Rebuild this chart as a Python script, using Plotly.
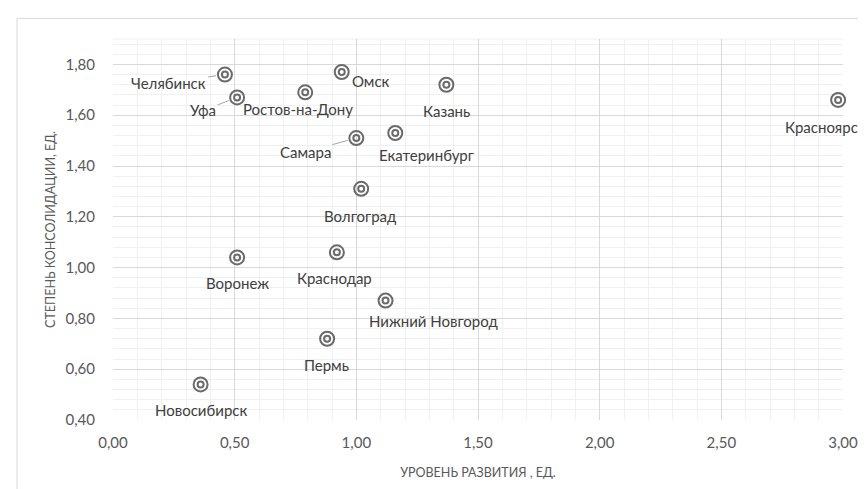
import plotly.graph_objects as go

# ---- data ----
cities = ["Челябинск", "Уфа", "Ростов-на-Дону", "Омск", "Казань", "Красноярск",
          "Самара", "Екатеринбург", "Волгоград", "Воронеж", "Краснодар",
          "Нижний Новгород", "Пермь", "Новосибирск"]
development = [0.46, 0.51, 0.79, 0.94, 1.37, 2.98, 1.00, 1.16, 1.02, 0.51, 0.92, 1.12, 0.88, 0.36]
consolidation = [1.76, 1.67, 1.69, 1.77, 1.72, 1.66, 1.51, 1.53, 1.31, 1.04, 1.06, 0.87, 0.72, 0.54]

x_title = "УРОВЕНЬ РАЗВИТИЯ , ЕД."
y_title = "СТЕПЕНЬ КОНСОЛИДАЦИИ, ЕД."

# ---- label placement (pixel offsets from point, style only) ----
label_offsets = {
    "Челябинск": (-56, 8, True),
    "Уфа": (-34, 13, True),
    "Ростов-на-Дону": (-7, 17, False),
    "Омск": (29, 9, False),
    "Казань": (0, 26, False),
    "Красноярск": (-13, 27, False),
    "Самара": (-51, 14, True),
    "Екатеринбург": (31, 22, False),
    "Волгоград": (-1, 27, False),
    "Воронеж": (0, 26, False),
    "Краснодар": (-2, 26, False),
    "Нижний Новгород": (48, 20, False),
    "Пермь": (-1, 26, False),
    "Новосибирск": (0, 26, False),
}

FONT = "Lato, 'Liberation Sans', sans-serif"
MARK = "#6a6a6a"

fig = go.Figure()
fig.add_trace(go.Scatter(
    x=development, y=consolidation, mode="markers", hoverinfo="skip",
    marker=dict(symbol="circle-open", size=14, color=MARK, line=dict(color=MARK, width=2)),
    showlegend=False, cliponaxis=False))
fig.add_trace(go.Scatter(
    x=development, y=consolidation, mode="markers", text=cities,
    marker=dict(symbol="circle-open", size=6, color=MARK, line=dict(color=MARK, width=2)),
    showlegend=False, cliponaxis=False))

annotations = []
for name, xv, yv in zip(cities, development, consolidation):
    dx, dy, leader = label_offsets[name]
    common = dict(x=xv, y=yv, xref="x", yref="y", text=name,
                  font=dict(family=FONT, size=15, color="#404040"))
    if leader:
        annotations.append(dict(**common, showarrow=True, ax=dx, ay=dy,
                                arrowhead=0, arrowwidth=1, arrowcolor="#a6a6a6",
                                standoff=9))
    else:
        annotations.append(dict(**common, showarrow=False, xshift=dx, yshift=-dy))

grid_major = "#d9d9d9"
grid_minor = "#f0f0f0"

fig.update_layout(
    width=866, height=489,
    margin=dict(l=105, r=31, t=31, b=77),
    paper_bgcolor="white", plot_bgcolor="white",
    separators=", ",
    font=dict(family=FONT, color="#595959", size=14),
    annotations=annotations,
    xaxis=dict(
        range=[0, 3.0], tick0=0, dtick=0.5, tickformat=".2f",
        showgrid=True, gridcolor=grid_major, gridwidth=1,
        minor=dict(dtick=0.1, showgrid=True, gridcolor=grid_minor, gridwidth=1),
        zeroline=False, showline=False,
        ticks="outside", ticklen=9, tickcolor="rgba(0,0,0,0)",
        tickfont=dict(size=15, color="#595959"),
        title=dict(text=x_title, font=dict(size=12.5, color="#595959"), standoff=18),
    ),
    yaxis=dict(
        range=[0.4, 1.9], tick0=0.4, dtick=0.2, tickformat=".2f",
        showgrid=True, gridcolor=grid_major, gridwidth=1,
        minor=dict(dtick=0.04, tick0=0.4, showgrid=True, gridcolor=grid_minor, gridwidth=1),
        zeroline=False, showline=False,
        ticks="outside", ticklen=14, tickcolor="rgba(0,0,0,0)",
        tickfont=dict(size=15, color="#595959"),
        title=dict(text=y_title, font=dict(size=12.5, color="#595959"), standoff=7),
    ),
    shapes=[
        dict(type="line", xref="paper", yref="paper", x0=0, x1=1, y0=1, y1=1,
             line=dict(color=grid_minor, width=1), layer="below"),
        dict(type="line", xref="paper", yref="paper", x0=-0.1315, x1=-0.1315,
             y0=1.054, y1=-0.21, line=dict(color="#d9d9d9", width=1)),
        dict(type="line", xref="paper", yref="paper", x0=-0.1315, x1=1.05,
             y0=1.054, y1=1.054, line=dict(color="#d9d9d9", width=1)),
    ],
)

fig.write_html("out.html")
